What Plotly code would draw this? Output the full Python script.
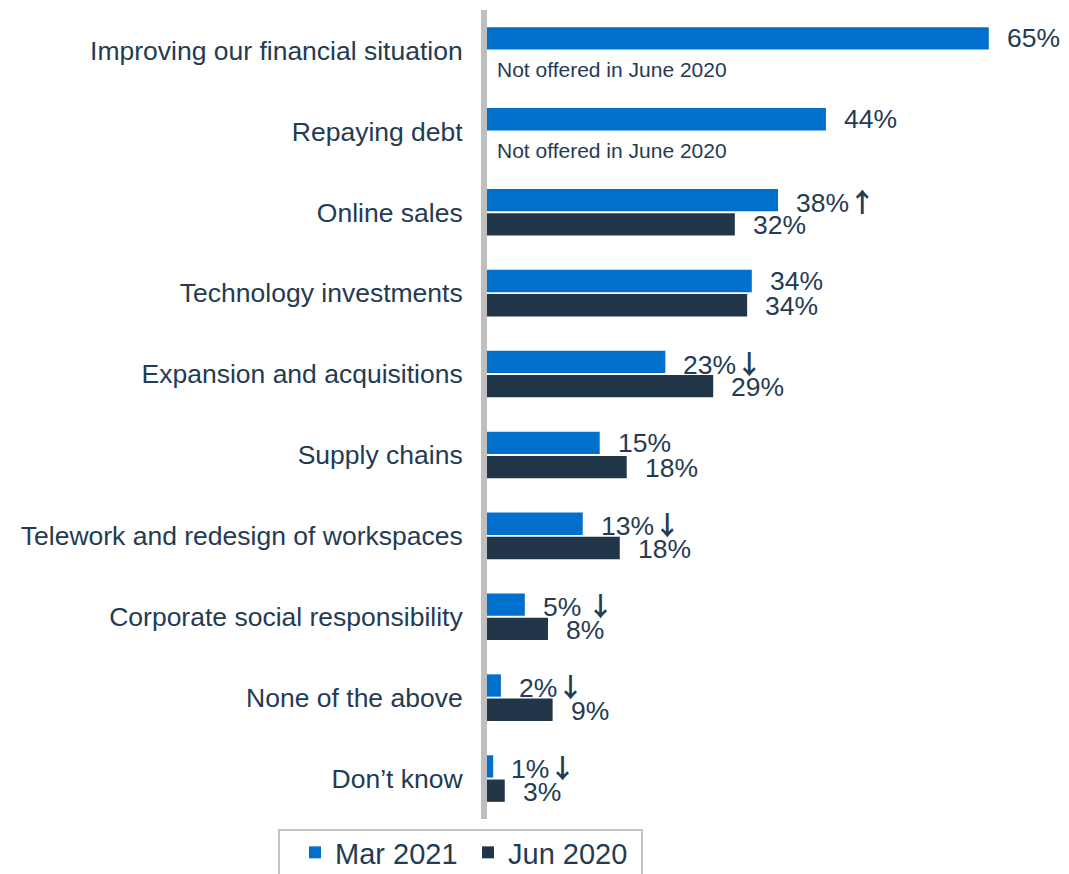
import plotly.graph_objects as go

categories = [
    "Improving our financial situation",
    "Repaying debt",
    "Online sales",
    "Technology investments",
    "Expansion and acquisitions",
    "Supply chains",
    "Telework and redesign of workspaces",
    "Corporate social responsibility",
    "None of the above",
    "Don\u2019t know",
]
mar2021 = [65.0, 43.9, 37.7, 34.3, 23.1, 14.6, 12.4, 4.9, 1.8, 0.8]
jun2020 = [None, None, 32.1, 33.7, 29.3, 18.1, 17.2, 7.9, 8.5, 2.3]
mar_labels = ["65%", "44%", "38%", "34%", "23%", "15%", "13%", "5%", "2%", "1%"]
mar_arrows = ["", "", "\u2191", "", "\u2193", "", "\u2193", " \u2193", "\u2193", "\u2193"]
jun_labels = [None, None, "32%", "34%", "29%", "18%", "18%", "8%", "9%", "3%"]
not_offered_text = "Not offered in June 2020"

BLUE = "#0070CC"
NAVY = "#213649"
TEXT = "#243B53"
FONT = "Arial, Liberation Sans, sans-serif"

# page body has an 8px margin: figure drawn at (8, 8)
W, H = 1061, 866
PL, PR, PT, PB = 479, 1058, 2, 811  # plot area in figure pixels

fig = go.Figure()
fig.add_trace(go.Bar(y=categories, x=mar2021, orientation="h", name="Mar 2021",
                     marker=dict(color=BLUE, line=dict(width=0))))
fig.add_trace(go.Bar(y=categories, x=jun2020, orientation="h", name="Jun 2020",
                     marker=dict(color=NAVY, line=dict(width=0))))

annotations = []
for cat, v, lab, arr in zip(categories, mar2021, mar_labels, mar_arrows):
    txt = lab
    if arr:
        txt += ("<span style=\"font-family:'Noto Sans CJK SC';font-weight:bold\">"
                + arr + "</span>")
    annotations.append(dict(x=v, y=cat, text=txt, showarrow=False, xanchor="left",
                            yanchor="middle", xshift=16, yshift=12,
                            font=dict(size=26.5, color=TEXT, family=FONT)))
for cat, v, lab in zip(categories, jun2020, jun_labels):
    if v is None:
        annotations.append(dict(x=0, y=cat, text=not_offered_text, showarrow=False,
                                xanchor="left", yanchor="middle", xshift=8, yshift=-19,
                                font=dict(size=21, color=TEXT, family=FONT)))
    else:
        annotations.append(dict(x=v, y=cat, text=lab, showarrow=False, xanchor="left",
                                yanchor="middle", xshift=16, yshift=-13,
                                font=dict(size=26.5, color=TEXT, family=FONT)))


def px_to_paper_x(px):
    return (px - PL) / (PR - PL)


def px_to_paper_y(py):
    return (PB - py) / (PB - PT)


# legend frame (screen coords 279..642 x, top at 830)
shapes = [dict(type="rect", xref="paper", yref="paper",
               x0=px_to_paper_x(279 - 8), x1=px_to_paper_x(642 - 8),
               y0=px_to_paper_y(830 - 8), y1=px_to_paper_y(H + 10),
               line=dict(color="#C4C4C4", width=2), fillcolor="rgba(0,0,0,0)",
               layer="above")]

fig.update_layout(
    width=W, height=H,
    margin=dict(l=PL, r=W - PR, t=PT, b=H - PB, autoexpand=False),
    paper_bgcolor="white", plot_bgcolor="white",
    barmode="group", bargap=0.4, bargroupgap=0.08,
    font=dict(family=FONT, color=TEXT, size=26.5),
    xaxis=dict(range=[0, 75], visible=False, showgrid=False, zeroline=False),
    yaxis=dict(autorange="reversed", showgrid=False, zeroline=False,
               showline=True, linecolor="#BFBFBF", linewidth=6,
               ticks="", ticklabelstandoff=13,
               tickfont=dict(size=26.5, color=TEXT, family=FONT)),
    showlegend=True,
    legend=dict(orientation="h", xref="container", yref="container",
                x=(295 - 8) / W, xanchor="left", y=1 - (827 - 8) / H, yanchor="top",
                borderwidth=0, traceorder="normal",
                entrywidth=128, itemwidth=30, bgcolor="rgba(0,0,0,0)",
                font=dict(size=29, color=TEXT, family=FONT)),
    annotations=annotations,
    shapes=shapes,
)

fig.write_html("out.html")
